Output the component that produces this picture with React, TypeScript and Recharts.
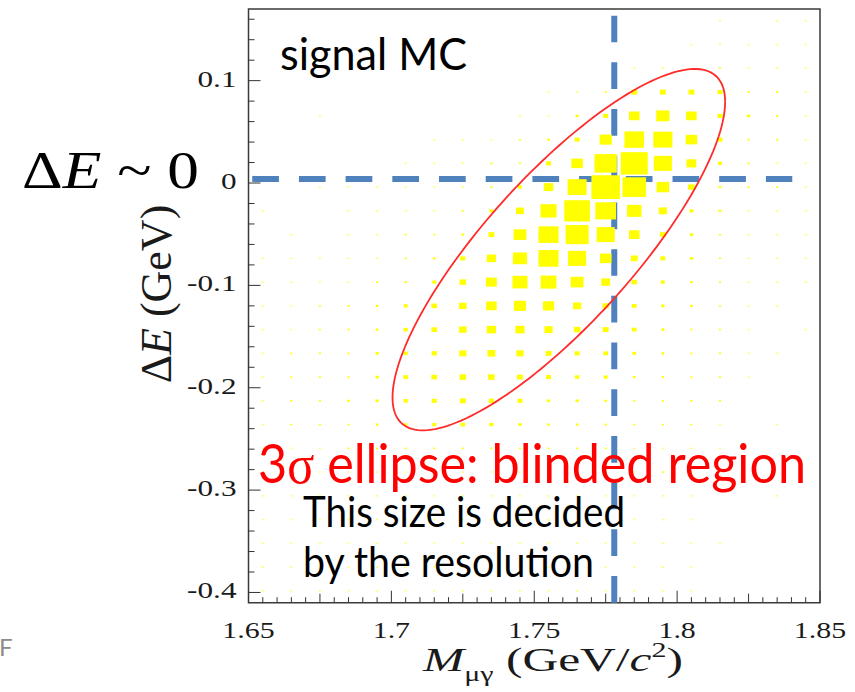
import React from 'react';
import { ScatterChart, Scatter, XAxis, YAxis, ReferenceLine, ReferenceArea } from 'recharts';

// M_mu-gamma bins (GeV/c^2), 0.01 wide
const xBinCenters = [
  1.655, 1.665, 1.675, 1.685, 1.695, 1.705, 1.715, 1.725, 1.735, 1.745,
  1.755, 1.765, 1.775, 1.785, 1.795, 1.805, 1.815, 1.825, 1.835, 1.845,
];
// Delta E bins (GeV), top row first
const yBinCenters = [
  0.1584, 0.1352, 0.112, 0.0888, 0.0656, 0.0424, 0.0192, -0.004, -0.0272, -0.0504,
  -0.0736, -0.0968, -0.12, -0.1432, -0.1664, -0.1896, -0.2128, -0.236, -0.2592, -0.2824,
  -0.3056, -0.3288, -0.352, -0.3752, -0.3984,
];
// box content per cell, rows match yBinCenters
const boxContent = [
  [0, 0, 0, 0, 0, 0, 0, 0, 0, 0, 0, 0, 0, 0, 0, 0, 3, 0, 3, 3],
  [0, 0, 0, 0, 0, 0, 0, 0, 0, 0, 0, 0, 0, 0, 0, 3, 3, 3, 3, 3],
  [0, 0, 0, 0, 0, 0, 0, 0, 0, 0, 0, 0, 0, 3, 3, 0, 5, 3, 3, 3],
  [0, 0, 0, 0, 0, 0, 0, 0, 0, 0, 3, 3, 4, 18, 18, 18, 15, 6, 4, 3],
  [0, 0, 3, 0, 0, 0, 0, 0, 0, 3, 3, 9, 15, 32, 40, 32, 15, 10, 5, 3],
  [0, 0, 0, 0, 0, 0, 3, 3, 3, 4, 8, 15, 37, 60, 58, 35, 15, 6, 5, 3],
  [0, 0, 0, 0, 0, 3, 3, 3, 4, 5, 15, 35, 68, 82, 55, 30, 12, 6, 3, 3],
  [0, 0, 3, 3, 3, 3, 3, 3, 5, 12, 29, 58, 87, 72, 38, 20, 8, 5, 4, 3],
  [3, 0, 0, 3, 3, 3, 3, 5, 12, 24, 49, 78, 63, 44, 25, 12, 8, 3, 3, 3],
  [0, 3, 0, 3, 3, 4, 5, 8, 18, 39, 61, 70, 55, 32, 18, 10, 6, 3, 3, 3],
  [3, 3, 3, 3, 3, 5, 8, 15, 28, 43, 61, 55, 35, 21, 15, 10, 6, 3, 3, 3],
  [3, 3, 3, 3, 4, 7, 12, 20, 33, 46, 48, 39, 27, 17, 12, 8, 6, 3, 3, 3],
  [3, 3, 4, 5, 8, 12, 17, 23, 32, 37, 34, 25, 19, 14, 10, 8, 5, 3, 3, 0],
  [3, 3, 5, 6, 8, 13, 17, 23, 28, 28, 25, 20, 18, 14, 9, 6, 5, 3, 0, 3],
  [3, 4, 5, 6, 10, 13, 16, 22, 24, 22, 18, 15, 14, 11, 8, 6, 4, 3, 3, 0],
  [3, 4, 5, 6, 10, 14, 17, 20, 20, 18, 15, 13, 12, 8, 7, 5, 4, 3, 0, 0],
  [3, 4, 5, 8, 10, 13, 15, 18, 16, 15, 10, 10, 8, 6, 6, 5, 4, 0, 0, 0],
  [3, 4, 6, 6, 8, 10, 12, 14, 12, 10, 8, 8, 7, 5, 5, 4, 3, 0, 3, 0],
  [3, 3, 3, 4, 5, 5, 6, 6, 6, 5, 4, 4, 4, 3, 3, 3, 3, 0, 0, 0],
  [3, 3, 3, 3, 3, 3, 3, 3, 3, 3, 3, 3, 3, 3, 5, 3, 0, 0, 0, 0],
  [3, 3, 3, 3, 3, 3, 3, 3, 3, 3, 3, 3, 3, 3, 3, 3, 0, 0, 3, 0],
  [3, 3, 3, 3, 3, 3, 3, 3, 3, 3, 3, 3, 3, 3, 3, 3, 0, 0, 0, 0],
  [3, 3, 3, 3, 3, 3, 3, 3, 3, 3, 3, 3, 3, 3, 3, 3, 3, 0, 0, 0],
  [3, 3, 3, 3, 3, 3, 3, 3, 3, 3, 3, 3, 3, 3, 3, 3, 0, 0, 0, 0],
  [3, 3, 3, 3, 3, 3, 3, 3, 3, 3, 3, 3, 3, 3, 3, 3, 0, 0, 0, 0],
];

const xMajorTicks = [1.65, 1.7, 1.75, 1.8, 1.85];
const yMajorTicks = [-0.4, -0.3, -0.2, -0.1, 0, 0.1];
const yTickLabels = ['-0.4', '-0.3', '-0.2', '-0.1', '0', '0.1'];

const tauMass = 1.778;
const deltaEZero = 0.004;
// 3 sigma ellipse: centre, half extents and correlation
const ellipse = { cx: 1.7586, cy: -0.0651, ex: 0.0582, ey: 0.1765, rho: 0.818 };

const X_DOMAIN: [number, number] = [1.65, 1.85];
const Y_DOMAIN: [number, number] = [-0.41, 0.17];

const W = 855;
const H = 692;
const M = { top: 9, right: 35, left: 0, bottom: 0 };
const YAXIS_W = 248.5;
const XAXIS_H = 89.3;
const PLOT_W = W - M.left - M.right - YAXIS_W;
const PLOT_H = H - M.top - M.bottom - XAXIS_H;
const BIN_W = PLOT_W / xBinCenters.length;
const BIN_H = PLOT_H / yBinCenters.length;

const maxContent = Math.max(...boxContent.flat());

const boxes = [];
boxContent.forEach((row, r) =>
  row.forEach((v, c) => {
    if (v > 0) boxes.push({ x: xBinCenters[c], y: yBinCenters[r], v });
  })
);

const ellipsePts = [];
for (let i = 0; i <= 180; i++) {
  const t = (2 * Math.PI * i) / 180;
  ellipsePts.push({
    x: ellipse.cx + ellipse.ex * Math.cos(t),
    y: ellipse.cy + ellipse.ey * (ellipse.rho * Math.cos(t) + Math.sqrt(1 - ellipse.rho ** 2) * Math.sin(t)),
  });
}

const xTicks = [];
for (let i = 0; i <= 40; i++) xTicks.push(+(1.65 + i * 0.005).toFixed(3));
const yTicks = [];
for (let i = 0; i <= 28; i++) yTicks.push(+(-0.4 + i * 0.02).toFixed(2));

const SERIF = '"Liberation Serif", "Times New Roman", serif';
const SANS = 'Lato, "Open Sans", sans-serif';

const Box = (props: any) => {
  const { cx, cy, payload } = props;
  const f = payload.v / maxContent;
  const tiny = payload.v <= 3;
  const w = Math.max(f * BIN_W, 2);
  const h = Math.max(f * BIN_H, 1.6);
  return <rect x={cx - w / 2} y={cy - h / 2} width={w} height={h} fill="#ffff00" fillOpacity={tiny ? 0.6 : 1} />;
};

const XTick = (props: any) => {
  const { x, y, payload } = props;
  const v = payload.value;
  const isMajor = xMajorTicks.some((m) => Math.abs(m - v) < 1e-6);
  const isMid = Math.abs(v / 0.025 - Math.round(v / 0.025)) < 1e-6;
  const len = isMajor ? 12 : isMid ? 9 : 5.5;
  return (
    <g>
      <line x1={x} x2={x} y1={y} y2={y - len} stroke="#333" strokeWidth={1} />
      {isMajor && (
        <text transform={`translate(${x},${y + 35}) scale(1.3,1)`} textAnchor="middle" fontFamily={SERIF} fontSize={23} fill="#1a1a1a">
          {String(v)}
        </text>
      )}
    </g>
  );
};

const YTick = (props: any) => {
  const { x, y, payload } = props;
  const v = payload.value;
  const idx = yMajorTicks.findIndex((m) => Math.abs(m - v) < 1e-6);
  const len = idx >= 0 ? 12 : 6;
  return (
    <g>
      <line x1={x} x2={x + len} y1={y} y2={y} stroke="#333" strokeWidth={1} />
      {idx >= 0 && (
        <text transform={`translate(${x - 12},${y + 6}) scale(1.3,1)`} textAnchor="end" fontFamily={SERIF} fontSize={24} fill="#1a1a1a">
          {yTickLabels[idx]}
        </text>
      )}
    </g>
  );
};

const Annotations = () => (
  <svg width={W} height={H} style={{ position: 'absolute', left: 0, top: 0, pointerEvents: 'none' }}>
    <text x={280} y={70} fontFamily={SANS} fontSize={44} fill="#000" textLength={187} lengthAdjust="spacingAndGlyphs">
      signal MC
    </text>
    <text x={258} y={483} fontFamily={SANS} fontSize={54} fill="#ff0000" textLength={548} lengthAdjust="spacingAndGlyphs">
      3<tspan fontFamily={SERIF}>σ</tspan> ellipse: blinded region
    </text>
    <text x={303} y={527} fontFamily={SANS} fontSize={42} fill="#000" textLength={322} lengthAdjust="spacingAndGlyphs">
      This size is decided
    </text>
    <text x={303} y={577} fontFamily={SANS} fontSize={42} fill="#000" textLength={291} lengthAdjust="spacingAndGlyphs">
      by the resolution
    </text>
    <text x={22} y={188} fontFamily={SERIF} fontSize={52} fill="#000" textLength={177} lengthAdjust="spacingAndGlyphs">
      Δ<tspan fontStyle="italic">E</tspan> ~ 0
    </text>
    <text transform="translate(171,294) rotate(-90)" textAnchor="middle" fontFamily={SERIF} fontSize={44} fill="#1a1a1a">
      Δ<tspan fontStyle="italic">E</tspan> (GeV)
    </text>
    <g transform="translate(423,671) scale(1.5,1)">
      <text x={0} y={0} fontFamily={SERIF} fontSize={33} fill="#1a1a1a">
        <tspan fontStyle="italic">M</tspan>
        <tspan fontSize={20} dy={10}>μγ</tspan>
        <tspan dy={-10}> (GeV/</tspan>
        <tspan fontStyle="italic">c</tspan>
        <tspan fontSize={20} dy={-14}>2</tspan>
        <tspan dy={14}>)</tspan>
      </text>
    </g>
    <text x={-1} y={656} fontFamily={SANS} fontSize={24} fill="#8c8c8c">
      F
    </text>
  </svg>
);

export default function App() {
  return (
    <div style={{ position: 'absolute', left: 0, top: 0, width: W, height: H, background: '#fff' }}>
      <ScatterChart width={W} height={H} margin={M}>
        <XAxis
          dataKey="x"
          type="number"
          domain={X_DOMAIN}
          ticks={xTicks}
          interval={0}
          allowDataOverflow
          axisLine={false}
          tickLine={false}
          tickSize={0}
          tickMargin={0}
          height={XAXIS_H}
          tick={(p: any) => <XTick {...p} />}
        />
        <YAxis
          dataKey="y"
          type="number"
          domain={Y_DOMAIN}
          ticks={yTicks}
          interval={0}
          allowDataOverflow
          axisLine={false}
          tickLine={false}
          tickSize={0}
          tickMargin={0}
          width={YAXIS_W}
          tick={(p: any) => <YTick {...p} />}
        />
        <Scatter data={boxes} shape={(p: any) => <Box {...p} />} isAnimationActive={false} />
        <ReferenceLine
          segment={[{ x: 1.6513, y: deltaEZero }, { x: 1.8403, y: deltaEZero }]}
          stroke="#4f81bd"
          strokeWidth={6}
          strokeDasharray="26.7 20"
        />
        <ReferenceLine
          segment={[{ x: tauMass, y: 0.1635 }, { x: tauMass, y: -0.41 }]}
          stroke="#4f81bd"
          strokeWidth={6}
          strokeDasharray="26.7 20"
        />
        <Scatter
          data={ellipsePts}
          line={{ stroke: '#ff2a2a', strokeWidth: 1.8 }}
          lineType="joint"
          shape={() => <g />}
          isAnimationActive={false}
        />
        <ReferenceArea
          x1={X_DOMAIN[0]}
          x2={X_DOMAIN[1]}
          y1={Y_DOMAIN[0]}
          y2={Y_DOMAIN[1]}
          fill="none"
          fillOpacity={0}
          stroke="#3a3a3a"
          strokeWidth={1.5}
        />
      </ScatterChart>
      <Annotations />
    </div>
  );
}
